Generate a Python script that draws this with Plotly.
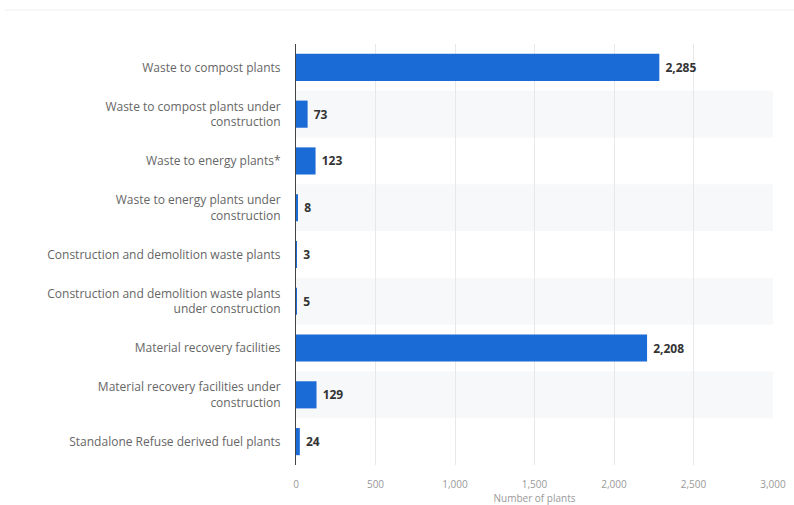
import plotly.graph_objects as go

categories = [
    "Waste to compost plants",
    "Waste to compost plants under<br>construction",
    "Waste to energy plants*",
    "Waste to energy plants under<br>construction",
    "Construction and demolition waste plants",
    "Construction and demolition waste plants<br>under construction",
    "Material recovery facilities",
    "Material recovery facilities under<br>construction",
    "Standalone Refuse derived fuel plants",
]
values = [2285, 73, 123, 8, 3, 5, 2208, 129, 24]
x_ticks = [0, 500, 1000, 1500, 2000, 2500, 3000]
x_tick_labels = ["0", "500", "1,000", "1,500", "2,000", "2,500", "3,000"]

fig = go.Figure()
fig.add_trace(go.Bar(
    x=values, y=categories, orientation="h",
    marker=dict(color="#1a6bd6", line=dict(width=0)),
    text=[f" {v:,}" for v in values],
    textposition="outside",
    textfont=dict(family="Open Sans, sans-serif", size=12, color="#333333", weight="bold"),
    cliponaxis=False,
    width=0.58,
))

shapes = []
for i in range(len(categories)):
    if i % 2 == 1:
        shapes.append(dict(type="rect", xref="x domain", yref="y",
                           x0=0, x1=1, y0=i - 0.5, y1=i + 0.5,
                           fillcolor="#f7f8fa", line=dict(width=0), layer="below"))
shapes.append(dict(type="line", xref="paper", yref="paper", x0=-0.61, x1=1.05,
                   y0=1.081, y1=1.081, line=dict(color="#eeeeee", width=1)))
fig.update_layout(
    width=794, height=505,
    margin=dict(l=296, r=21, t=44, b=40),
    paper_bgcolor="white", plot_bgcolor="white",
    showlegend=False,
    shapes=shapes,
    font=dict(family="Open Sans, sans-serif", color="#666666"),
    xaxis=dict(range=[0, 3000], tickvals=x_ticks, ticktext=x_tick_labels,
               showgrid=True, gridcolor="#e8e8e8", gridwidth=1, zeroline=False,
               tickfont=dict(size=10, color="#999999"), ticklabelstandoff=12,
               title=dict(text="Number of plants", font=dict(size=10, color="#999999"), standoff=1),
               showline=False, ticks="", automargin=False),
    yaxis=dict(autorange="reversed", showline=True, linecolor="#444444", linewidth=1,
               tickfont=dict(size=12, color="#666666"), ticks="", ticklabelstandoff=12,
               showgrid=False, automargin=False),
)
fig.write_html("out.html")
